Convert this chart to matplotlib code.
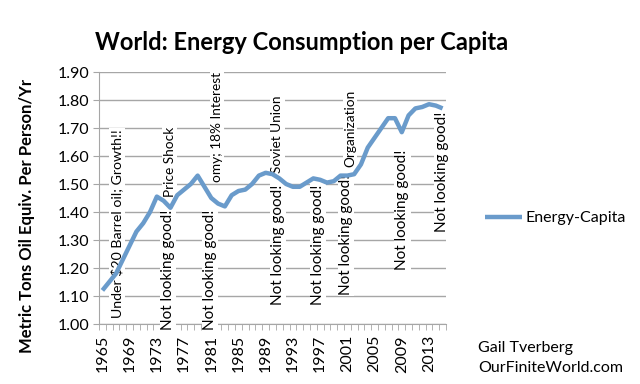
import matplotlib
matplotlib.use('agg')
import matplotlib.pyplot as plt
import numpy as np

# Data

years = list(range(1965, 2016))
energy_capita = [1.12, 1.15, 1.18, 1.23, 1.28, 1.33, 1.36, 1.40, 1.455, 1.44,
                 1.415, 1.46, 1.48, 1.50, 1.53, 1.49, 1.45, 1.43, 1.42, 1.46,
                 1.475, 1.48, 1.50, 1.53, 1.54, 1.535, 1.52, 1.50, 1.49, 1.49,
                 1.505, 1.52, 1.515, 1.505, 1.51, 1.53, 1.53, 1.535, 1.57, 1.63,
                 1.665, 1.70, 1.735, 1.735, 1.685, 1.745, 1.77, 1.775, 1.785, 1.78,
                 1.77]
label_years = list(range(1965, 2014, 4))
y_ticks = [1.00, 1.10, 1.20, 1.30, 1.40, 1.50, 1.60, 1.70, 1.80, 1.90]

# Notes on the chart: text, x (year), y (value at the bottom of the text)
growth_note = ("Under $20 Barrel oil; Growth!!", 1967.15, 1.021)
notes = [
    ("Price Shock", 1974.9, 1.454),
    ("omy; 18% Interest", 1981.85, 1.507),
    ("Soviet Union", 1990.7, 1.539),
    ("Organization", 2001.4, 1.561),
]
bad_notes_x = [1974.65, 1980.8, 1990.8, 1996.7, 2000.8, 2009.1, 2014.9]
bad_notes_y = [0.979, 0.979, 1.068, 1.068, 1.104, 1.193, 1.329]

plt.rcParams['font.family'] = ['Lato', 'DejaVu Sans']

line_color = '#6a9bcb'
grid_color = '#a6a6a6'

fig = plt.figure(figsize=(6.4, 3.84), dpi=100)
ax = fig.add_axes([99 / 640, 1 - 324 / 384, 347 / 640, 252 / 384])

ax.plot(years, energy_capita, color=line_color, linewidth=3.2, zorder=5,
        solid_capstyle='butt', label='Energy-Capita')

ax.set_xlim(1964.5, 2015.5)
ax.set_ylim(1.0, 1.9)

# Axes and grid

ax.set_yticks(y_ticks)
ax.set_yticklabels(["%.2f" % v for v in y_ticks], fontsize=11.5)
ax.yaxis.grid(True, color=grid_color, linewidth=1)
ax.set_axisbelow(True)

ax.set_xticks(label_years)
ax.set_xticklabels([str(y) for y in label_years], rotation=90, fontsize=11.5)
ax.set_xticks(np.arange(1964.5, 2016, 1), minor=True)
ax.tick_params(axis='x', which='major', length=0, pad=8)
ax.tick_params(axis='x', which='minor', length=4, color=grid_color, direction='out')
ax.tick_params(axis='y', length=4, color=grid_color, pad=3)

for side in ['top', 'right']:
    ax.spines[side].set_visible(False)
for side in ['left', 'bottom']:
    ax.spines[side].set_color(grid_color)

ax.set_ylabel('Metric Tons Oil Equiv. Per Person/Yr', fontsize=12,
              fontweight='bold')
ax.yaxis.set_label_coords(-0.185, 0.43)

# Text boxes

box = dict(facecolor='white', edgecolor='none', pad=1)
text, x, y = growth_note
ax.text(x, y, text, rotation=90, ha='center', va='bottom', fontsize=10.2,
        zorder=3, bbox=box)
for text, x, y in notes:
    ax.text(x, y, text, rotation=90, ha='center', va='bottom', fontsize=9.8,
            zorder=3, bbox=box)
for x, y in zip(bad_notes_x, bad_notes_y):
    ax.text(x, y, 'Not looking good!', rotation=90, ha='center', va='bottom',
            fontsize=11, zorder=4, clip_on=False, bbox=box)

fig.text(95 / 640, 1 - 42 / 384, 'World: Energy Consumption per Capita',
         fontsize=17, fontweight='bold', va='center', ha='left')

ax.legend(loc='center left', bbox_to_anchor=(471 / 640, 1 - 218 / 384),
          bbox_transform=fig.transFigure, frameon=False, fontsize=11.5,
          handlelength=2.3, handletextpad=0.2)

fig.text(478 / 640, 1 - 348 / 384, 'Gail Tverberg', fontsize=11.5, va='center')
fig.text(478 / 640, 1 - 368 / 384, 'OurFiniteWorld.com', fontsize=11.5, va='center')

plt.savefig('out.png', dpi=100)
